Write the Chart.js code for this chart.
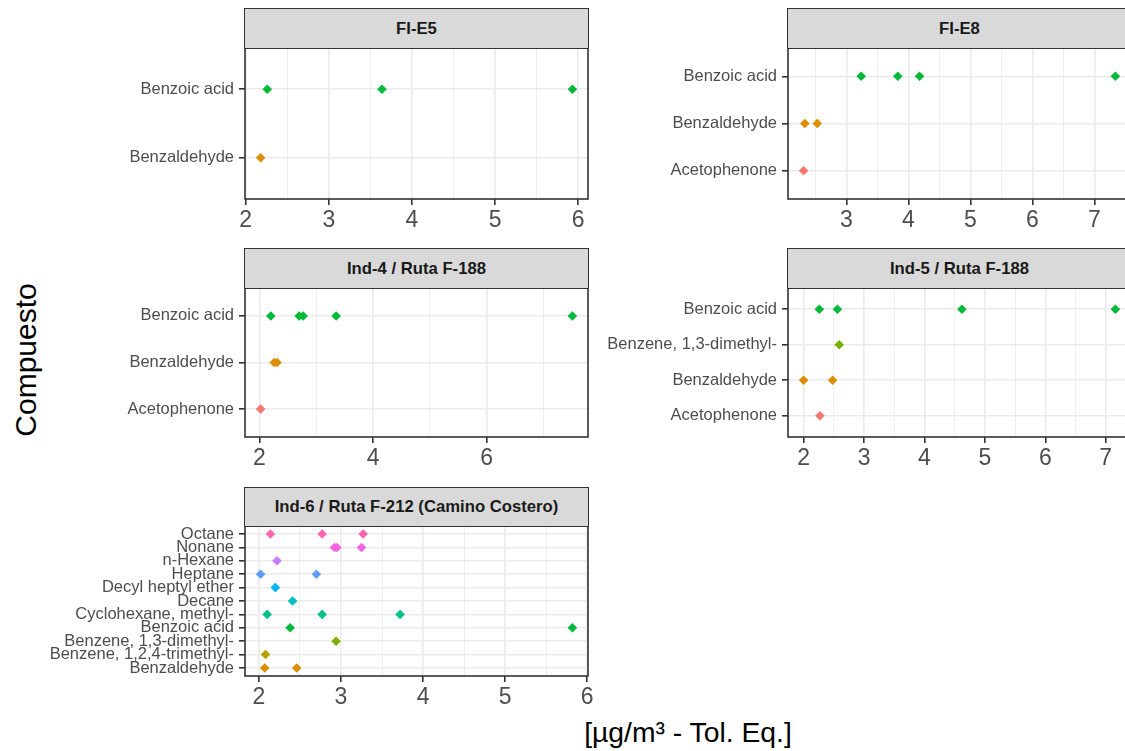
<!DOCTYPE html>
<html>
<head>
<meta charset="utf-8">
<script src="https://cdn.jsdelivr.net/npm/chart.js@4.4.1/dist/chart.umd.min.js"></script>
<style>
  body { margin: 0; background: #fff; }
  #page { position: relative; width: 1125px; height: 751px; overflow: hidden;
          font-family: "Liberation Sans", Arial, sans-serif; }
  .strip { position: absolute; box-sizing: border-box; background: #d9d9d9;
           border: 1.6px solid #333; display: flex; align-items: center; justify-content: center;
           font-weight: bold; font-size: 16.7px; color: #1a1a1a; white-space: nowrap; overflow: hidden; }
  .panel { position: absolute; }
  #ytitle { position: absolute; left: 26px; top: 360px; transform: translate(-50%, -50%) rotate(-90deg);
            font-size: 30px; white-space: nowrap; color: #000; }
  #xtitle { position: absolute; left: 688px; top: 732px; transform: translate(-50%, -50%);
            font-size: 28.3px; white-space: nowrap; color: #000; }
</style>
</head>
<body>
<div id="page">
  <div id="ytitle">Compuesto</div>
  <div id="xtitle">[µg/m³ - Tol. Eq.]</div>
</div>
<script>
// every compound in the data, in factor order, and the ggplot hue palette for them
const compoundLevels = ["Acetophenone", "Benzaldehyde", "Benzene, 1,2,4-trimethyl-", "Benzene, 1,3-dimethyl-",
  "Benzoic acid", "Cyclohexane, methyl-", "Decane", "Decyl heptyl ether", "Heptane", "n-Hexane", "Nonane", "Octane"];
const compoundColors = ["#F8766D", "#DE8C00", "#B79F00", "#7CAE00", "#00BA38", "#00C08B",
  "#00BFC4", "#00B4F0", "#619CFF", "#C77CFF", "#F564E3", "#FF64B0"];

const panelTitles = ["FI-E5", "FI-E8", "Ind-4 / Ruta F-188", "Ind-5 / Ruta F-188", "Ind-6 / Ruta F-212 (Camino Costero)"];

// FI-E5
const e5Compounds = ["Benzaldehyde", "Benzoic acid"];
const e5Values = [[2.18], [2.26, 3.64, 5.93]];
const e5Ticks = [2, 3, 4, 5, 6];

// FI-E8
const e8Compounds = ["Acetophenone", "Benzaldehyde", "Benzoic acid"];
const e8Values = [[2.31], [2.33, 2.53], [3.24, 3.83, 4.18, 7.34]];
const e8Ticks = [3, 4, 5, 6, 7];

// Ind-4 / Ruta F-188
const ind4Compounds = ["Acetophenone", "Benzaldehyde", "Benzoic acid"];
const ind4Values = [[2.02], [2.26, 2.31], [2.20, 2.70, 2.77, 3.35, 7.51]];
const ind4Ticks = [2, 4, 6];

// Ind-5 / Ruta F-188
const ind5Compounds = ["Acetophenone", "Benzaldehyde", "Benzene, 1,3-dimethyl-", "Benzoic acid"];
const ind5Values = [[2.27], [2.00, 2.48], [2.59], [2.26, 2.56, 4.62, 7.16]];
const ind5Ticks = [2, 3, 4, 5, 6, 7];

// Ind-6 / Ruta F-212 (Camino Costero)
const ind6Compounds = ["Benzaldehyde", "Benzene, 1,2,4-trimethyl-", "Benzene, 1,3-dimethyl-", "Benzoic acid",
  "Cyclohexane, methyl-", "Decane", "Decyl heptyl ether", "Heptane", "n-Hexane", "Nonane", "Octane"];
const ind6Values = [[2.07, 2.46], [2.08], [2.94], [2.38, 5.82], [2.10, 2.77, 3.72], [2.41], [2.20],
  [2.02, 2.70], [2.22], [2.92, 2.95, 3.25], [2.14, 2.77, 3.27]];
const ind6Ticks = [2, 3, 4, 5, 6];

const FONT = '"Liberation Sans", Arial, sans-serif';

// facet grid geometry (plot areas)
const colLeft = [245, 788];
const plotWidth = 343;
const canvasLeft = [0, 560];
const canvasWidth = 600;
const stripTop = [8, 248, 487];
const rowTop = [48, 288, 526];
const rowBottom = [199, 437, 676];
const TOP_PAD = 24, X_AXIS_H = 40;

const panelBorder = {
  id: "panelBorder",
  afterDatasetsDraw(chart) {
    const { ctx, chartArea: a } = chart;
    ctx.save();
    ctx.strokeStyle = "#333333";
    ctx.lineWidth = 1.6;
    ctx.strokeRect(a.left, a.top, a.right - a.left, a.bottom - a.top);
    ctx.restore();
  },
};

function makePanel(title, compounds, values, majors, col, row) {
  const page = document.getElementById("page");

  const wrap = document.createElement("div");
  wrap.className = "panel";
  const h = TOP_PAD + (rowBottom[row] - rowTop[row]) + X_AXIS_H;
  wrap.style.left = canvasLeft[col] + "px";
  wrap.style.top = (rowTop[row] - TOP_PAD) + "px";
  const cv = document.createElement("canvas");
  cv.width = canvasWidth;
  cv.height = h;
  wrap.appendChild(cv);
  page.appendChild(wrap);

  const strip = document.createElement("div");
  strip.className = "strip";
  strip.textContent = title;
  strip.style.left = (colLeft[col] - 0.8) + "px";
  strip.style.width = (plotWidth + 1.6) + "px";
  strip.style.top = stripTop[row] + "px";
  strip.style.height = (rowTop[row] - stripTop[row] + 1) + "px";
  page.appendChild(strip);

  // ggplot-like 5% expansion of the data range
  const all = values.flat();
  const lo = Math.min(...all), hi = Math.max(...all);
  const xmin = lo - (hi - lo) * 0.05, xmax = hi + (hi - lo) * 0.05;
  const step = majors[1] - majors[0];
  const minors = [];
  for (let v = majors[0] - step / 2; v <= xmax; v += step) if (v >= xmin) minors.push(v);
  const xTicks = [...majors, ...minors].sort((a, b) => a - b);
  const isMajor = v => majors.some(t => Math.abs(t - v) < 1e-6);

  const datasets = compounds.map((c, i) => ({
    label: c,
    data: values[i].map(v => ({ x: v, y: i })),
    backgroundColor: compoundColors[compoundLevels.indexOf(c)],
    pointStyle: "rectRot",
    pointRadius: 4.8,
    pointHoverRadius: 4.8,
    pointBorderWidth: 0,
    clip: false,
  }));

  const yAxisWidth = colLeft[col] - canvasLeft[col];
  const padRight = canvasLeft[col] + canvasWidth - (colLeft[col] + plotWidth);

  new Chart(cv, {
    type: "scatter",
    data: { datasets },
    plugins: [panelBorder],
    options: {
      responsive: false,
      animation: false,
      devicePixelRatio: 1,
      layout: { padding: { top: TOP_PAD, right: padRight, left: 0, bottom: 0 } },
      plugins: { legend: { display: false }, tooltip: { enabled: false } },
      scales: {
        x: {
          type: "linear",
          min: xmin,
          max: xmax,
          afterBuildTicks: s => { s.ticks = xTicks.map(v => ({ value: v })); },
          afterFit: s => { s.height = X_AXIS_H; },
          border: { display: false },
          grid: {
            color: "#EBEBEB",
            lineWidth: ctx => (isMajor(ctx.tick.value) ? 1.6 : 0.8),
            tickColor: ctx => (isMajor(ctx.tick.value) ? "#333333" : "rgba(0,0,0,0)"),
            tickLength: 6,
            tickWidth: 1.6,
          },
          ticks: {
            callback: v => (isMajor(v) ? String(v) : ""),
            font: { family: FONT, size: 23, lineHeight: 1 },
            color: "#4D4D4D",
            padding: 4,
            maxRotation: 0,
            autoSkip: false,
          },
        },
        y: {
          type: "linear",
          min: -0.6,
          max: compounds.length - 0.4,
          afterBuildTicks: s => { s.ticks = compounds.map((c, i) => ({ value: i })); },
          afterFit: s => { s.width = yAxisWidth; },
          border: { display: false },
          grid: { color: "#EBEBEB", lineWidth: 1.6, tickColor: "#333333", tickLength: 6, tickWidth: 1.6 },
          ticks: {
            callback: v => compounds[v],
            font: { family: FONT, size: 16.5 },
            color: "#4D4D4D",
            padding: 5,
            autoSkip: false,
          },
        },
      },
    },
  });
}

makePanel(panelTitles[0], e5Compounds, e5Values, e5Ticks, 0, 0);
makePanel(panelTitles[1], e8Compounds, e8Values, e8Ticks, 1, 0);
makePanel(panelTitles[2], ind4Compounds, ind4Values, ind4Ticks, 0, 1);
makePanel(panelTitles[3], ind5Compounds, ind5Values, ind5Ticks, 1, 1);
makePanel(panelTitles[4], ind6Compounds, ind6Values, ind6Ticks, 0, 2);
</script>
</body>
</html>
